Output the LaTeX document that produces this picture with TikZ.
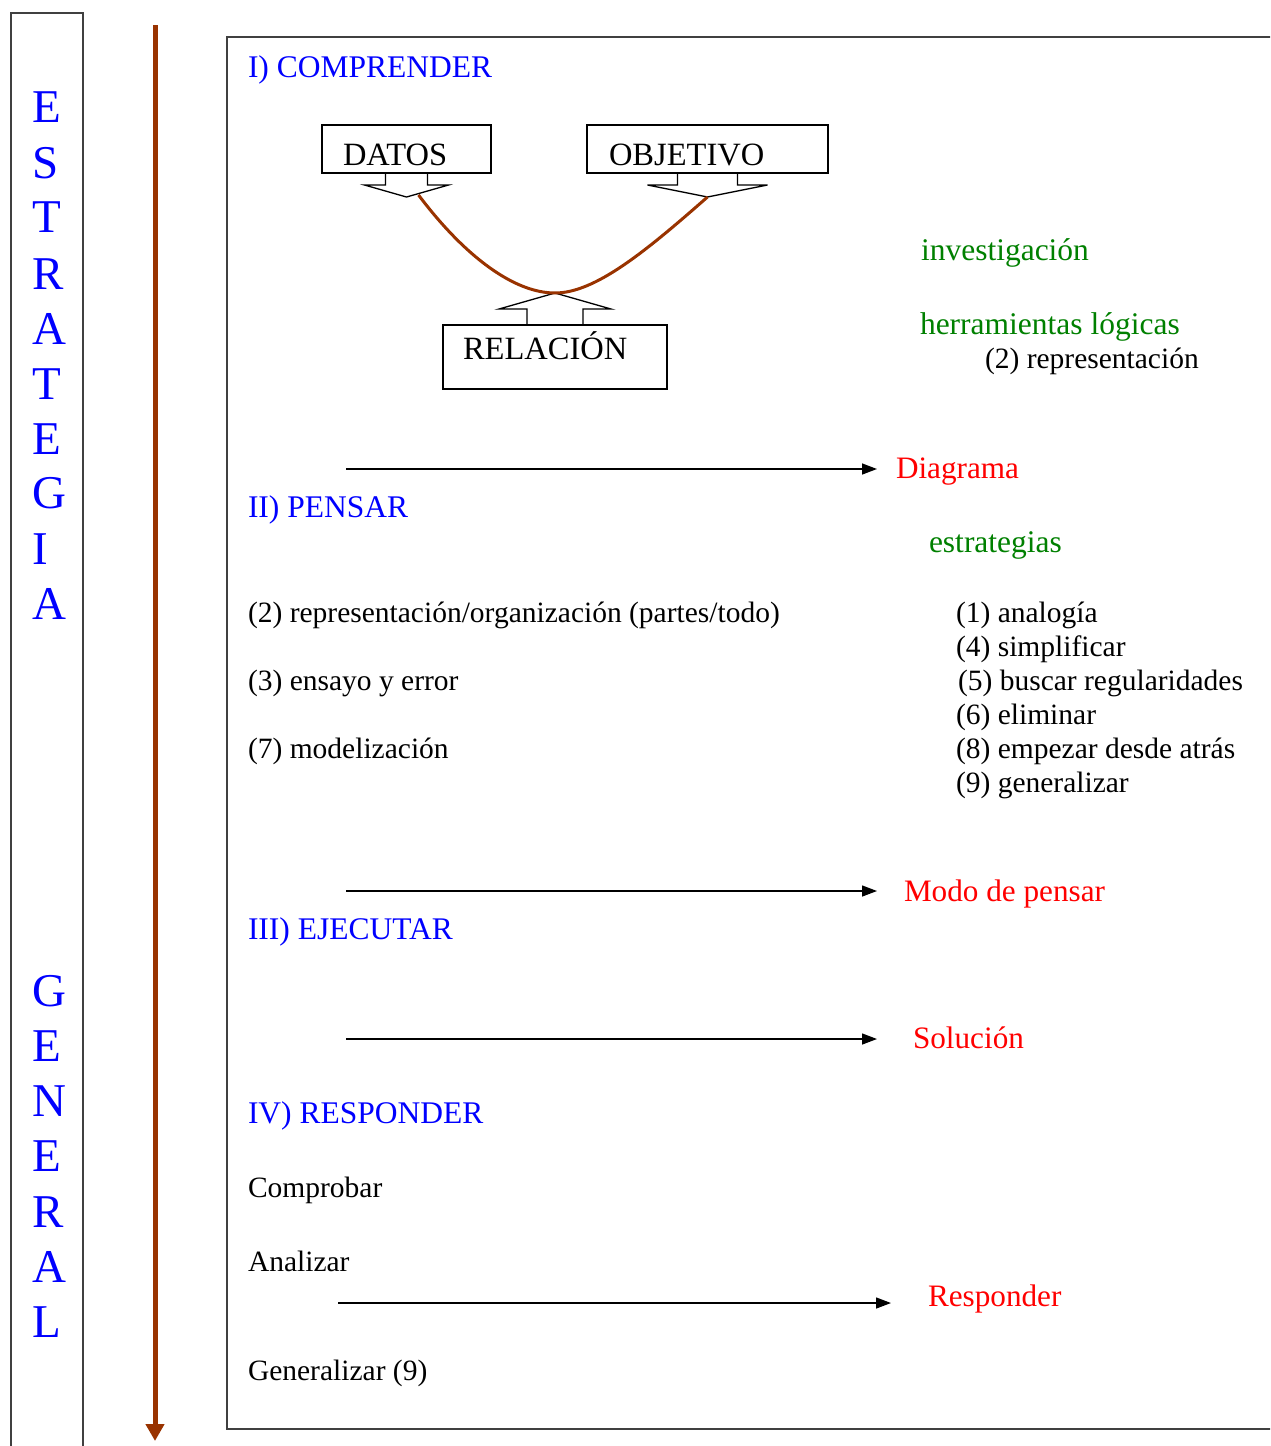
\documentclass[tikz,border=0pt]{standalone}
\usepackage{fontspec}
\setmainfont{Liberation Serif}
\usetikzlibrary{arrows.meta,calc}
\definecolor{wordblue}{RGB}{0,0,255}
\definecolor{wordgreen}{RGB}{0,128,0}
\definecolor{wordred}{RGB}{255,0,0}
\definecolor{brownline}{RGB}{153,51,0}
\definecolor{framegray}{RGB}{64,64,64}
\begin{document}
\begin{tikzpicture}[x=1pt,y=-1pt,
  every node/.style={inner sep=0pt,outer sep=0pt},
  headtxt/.style={anchor=base west,text=wordblue,font=\fontsize{31.5}{36}\selectfont},
  bodytxt/.style={anchor=base west,text=black,font=\fontsize{29.5}{36}\selectfont},
  greentxt/.style={anchor=base west,text=wordgreen,font=\fontsize{31.5}{36}\selectfont},
  redtxt/.style={anchor=base west,text=wordred,font=\fontsize{31.2}{36}\selectfont},
  lettertxt/.style={anchor=base west,text=wordblue,font=\fontsize{47}{50}\selectfont},
  callbox/.style={draw=black,line width=1.5pt,anchor=north west,align=left,
    font=\fontsize{32.5}{36}\selectfont},
  callarrow/.style={draw=black,line width=1.3pt,line join=miter},
  flow/.style={-{Triangle[length=15pt,width=11pt]},line width=1.4pt,black},
  framebox/.style={draw=framegray,line width=2pt},
  curveline/.style={draw=brownline,line width=3pt}
]
\useasboundingbox (0,0) rectangle (1270,1446);
\clip (0,0) rectangle (1270,1446);

% left column frame
\draw[framebox] (11,1450) -- (11,13) -- (83,13) -- (83,1450);
% main frame
\draw[framebox] (1275,37) -- (227,37) -- (227,1429) -- (1275,1429);

% vertical brown arrow
\coordinate (vtop) at (155,25);
\coordinate (vbot) at (155,1441);
\draw[draw=brownline,line width=5pt,-{Triangle[length=17pt,width=18pt]},brownline] (vtop) -- (vbot);

% ESTRATEGIA GENERAL letters
\foreach \l/\y [count=\i] in {E/122,S/178,T/232,R/289,A/344,T/399,E/454,G/508,I/564,A/619}
  \node[lettertxt] (est\i) at (32,\y) {\l};
\foreach \l/\y [count=\i] in {G/1006,E/1061,N/1116,E/1171,R/1227,A/1282,L/1337}
  \node[lettertxt] (gen\i) at (32,\y) {\l};

% headings
\node[headtxt] (h1) at (248,77) {I) COMPRENDER};
\node[headtxt] (h2) at (248,517) {II) PENSAR};
\node[headtxt] (h3) at (248,939) {III) EJECUTAR};
\node[headtxt] (h4) at (248,1123) {IV) RESPONDER};

% callout boxes
\node[callbox,inner xsep=21pt,text width=127pt,minimum height=48pt,text height=32pt,text depth=0pt] (datos) at (322,125) {DATOS};
\node[callbox,inner xsep=22pt,text width=197pt,minimum height=48pt,text height=32pt,text depth=0pt] (objetivo) at (587,125) {OBJETIVO};
\node[callbox,inner xsep=20pt,text width=184pt,minimum height=64pt,text height=21pt,text depth=17pt] (relacion) at (443,325) {RELACIÓN};

% callout arrows
\draw[callarrow] ($(datos.south)+(-21,0)$) -- ++(0,12) -- ++(-21,0)
  -- coordinate[pos=1] (datostip) ($(datos.south)+(0,24)$) -- ($(datos.south)+(42,12)$) -- ++(-21,0) -- ++(0,-12);
\draw[callarrow] ($(objetivo.south)+(-30,0)$) -- ++(0,12) -- ++(-30,0)
  -- coordinate[pos=1] (objtip) ($(objetivo.south)+(0,24)$) -- ($(objetivo.south)+(60,12)$) -- ++(-30,0) -- ++(0,-12);
\draw[callarrow] ($(relacion.north)+(-28,0)$) -- ++(0,-16) -- ++(-28,0)
  -- coordinate[pos=1] (reltip) ($(relacion.north)+(0,-32)$) -- ($(relacion.north)+(56,-16)$) -- ++(-28,0) -- ++(0,16);

% brown relation curve
\coordinate (cstart) at ($(datostip)+(12,-2)$);
\draw[curveline] (cstart) .. controls (466,258) and (515,293) .. (reltip)
  .. controls (595,293) and (645,252) .. (objtip);

% right-side notes
\node[greentxt] (inv) at (921,260) {investigación};
\node[greentxt] (herr) at (920,334) {herramientas lógicas};
\node[bodytxt] (rep) at (985,368) {(2) representación};
\node[greentxt] (estr) at (929,552) {estrategias};

% red labels
\node[redtxt] (diag) at (896,478) {Diagrama};
\node[redtxt] (modo) at (904,901) {Modo de pensar};
\node[redtxt] (sol) at (913,1048) {Solución};
\node[redtxt] (resp) at (928,1306) {Responder};

% flow arrows
\coordinate (a1s) at (346,469); \coordinate (a1e) at (877,469);
\coordinate (a2s) at (346,891); \coordinate (a2e) at (877,891);
\coordinate (a3s) at (346,1039); \coordinate (a3e) at (877,1039);
\coordinate (a4s) at (338,1303); \coordinate (a4e) at (891,1303);
\draw[flow] (a1s) -- (a1e);
\draw[flow] (a2s) -- (a2e);
\draw[flow] (a3s) -- (a3e);
\draw[flow] (a4s) -- (a4e);

% PENSAR contents
\node[bodytxt] (p2) at (248,622) {(2) representación/organización (partes/todo)};
\node[bodytxt] (p3) at (248,690) {(3) ensayo y error};
\node[bodytxt] (p7) at (248,758) {(7) modelización};

\node[bodytxt] (s1) at (956,622) {(1) analogía};
\node[bodytxt] (s4) at (956,656) {(4) simplificar};
\node[bodytxt] (s5) at (958,690) {(5) buscar regularidades};
\node[bodytxt] (s6) at (956,724) {(6) eliminar};
\node[bodytxt] (s8) at (956,758) {(8) empezar desde atrás};
\node[bodytxt] (s9) at (956,792) {(9) generalizar};

% RESPONDER contents
\node[bodytxt] (comp) at (248,1197) {Comprobar};
\node[bodytxt] (anal) at (248,1271) {Analizar};
\node[bodytxt] (genz) at (248,1380) {Generalizar (9)};
\end{tikzpicture}
\end{document}
